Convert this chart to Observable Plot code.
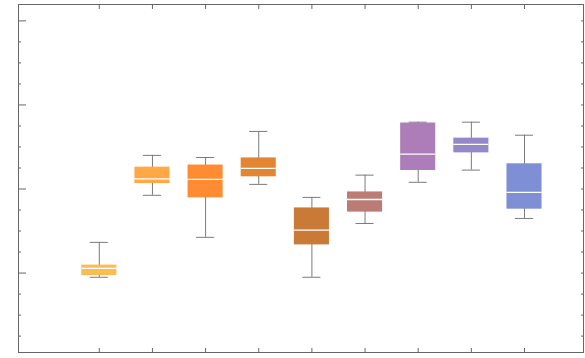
<!DOCTYPE html>
<html>
<head>
<meta charset="utf-8">
<script src="https://cdn.jsdelivr.net/npm/d3@7"></script>
<script src="https://cdn.jsdelivr.net/npm/@observablehq/plot@0.6"></script>
<style>
  html, body { margin: 0; padding: 0; background: #fff; }
  #chart svg { display: block; }
</style>
</head>
<body>
<div id="chart"></div>
<script>
// Box positions (no category labels shown in the reference)
const positions = [1, 2, 3, 4, 5, 6, 7, 8, 9];
const whiskerHigh = [7.3, 28.0, 27.5, 33.7, 18.0, 23.3, 35.9, 35.9, 32.8];
const q3Values    = [1.9, 25.2, 25.7, 27.4, 15.5, 19.3, 35.7, 32.1, 26.0];
const medians     = [1.1, 22.4, 22.3, 24.9, 10.2, 17.5, 28.3, 30.6, 19.2];
const q1Values    = [-0.6, 21.3, 17.9, 22.9, 6.7, 14.5, 24.4, 28.6, 15.2];
const whiskerLow  = [-1.0, 18.5, 8.5, 21.1, -1.0, 11.8, 21.6, 24.5, 13.0];
const boxColors   = ["#FBBD52", "#FFA845", "#FF8C33", "#E38531", "#C97A36", "#BA7C75", "#AC7DB8", "#9588C8", "#7E8FD6"];

// Axis tick values
const majorTicks = [0, 20, 40, 60];
const allTicks = d3.range(-15, 61, 5);
const minorTicks = allTicks.filter(v => !majorTicks.includes(v));

const data = positions.map((p, i) => ({
  pos: p,
  hi: whiskerHigh[i],
  q3: q3Values[i],
  med: medians[i],
  q1: q1Values[i],
  lo: whiskerLow[i],
  color: boxColors[i]
}));

const boxHalf = 0.33;
const capHalf = 0.17;
const axisColor = "#666";
const blank = () => "";

const chart = Plot.plot({
  width: 585,
  height: 358,
  marginLeft: 18,
  marginRight: 2,
  marginTop: 4,
  marginBottom: 6,
  x: {domain: [-0.52, 10.11], axis: null},
  y: {domain: [-18.9, 63.9], axis: null},
  color: {type: "identity"},
  marks: [
    Plot.ruleX(data, {x: "pos", y1: "lo", y2: "hi", stroke: "#7a7a7a", strokeWidth: 1}),
    Plot.ruleY(data, {y: "hi", x1: d => d.pos - capHalf, x2: d => d.pos + capHalf, stroke: "#7a7a7a", strokeWidth: 1}),
    Plot.ruleY(data, {y: "lo", x1: d => d.pos - capHalf, x2: d => d.pos + capHalf, stroke: "#7a7a7a", strokeWidth: 1}),
    Plot.rect(data, {x1: d => d.pos - boxHalf, x2: d => d.pos + boxHalf, y1: "q1", y2: "q3", fill: "color"}),
    Plot.ruleY(data, {y: "med", x1: d => d.pos - boxHalf, x2: d => d.pos + boxHalf, stroke: "white", strokeWidth: 1.3}),
    Plot.axisY({anchor: "left", ticks: majorTicks, tickSize: -8, tickFormat: blank, stroke: axisColor, label: null}),
    Plot.axisY({anchor: "left", ticks: minorTicks, tickSize: -3, tickFormat: blank, stroke: axisColor, label: null}),
    Plot.axisY({anchor: "right", ticks: allTicks, tickSize: -3, tickFormat: blank, stroke: axisColor, label: null}),
    Plot.axisX({anchor: "bottom", ticks: positions, tickSize: -4, tickFormat: blank, stroke: axisColor, label: null}),
    Plot.axisX({anchor: "top", ticks: positions, tickSize: -4, tickFormat: blank, stroke: axisColor, label: null}),
    Plot.frame({stroke: axisColor, strokeWidth: 1})
  ]
});
document.getElementById("chart").appendChild(chart);
</script>
</body>
</html>
